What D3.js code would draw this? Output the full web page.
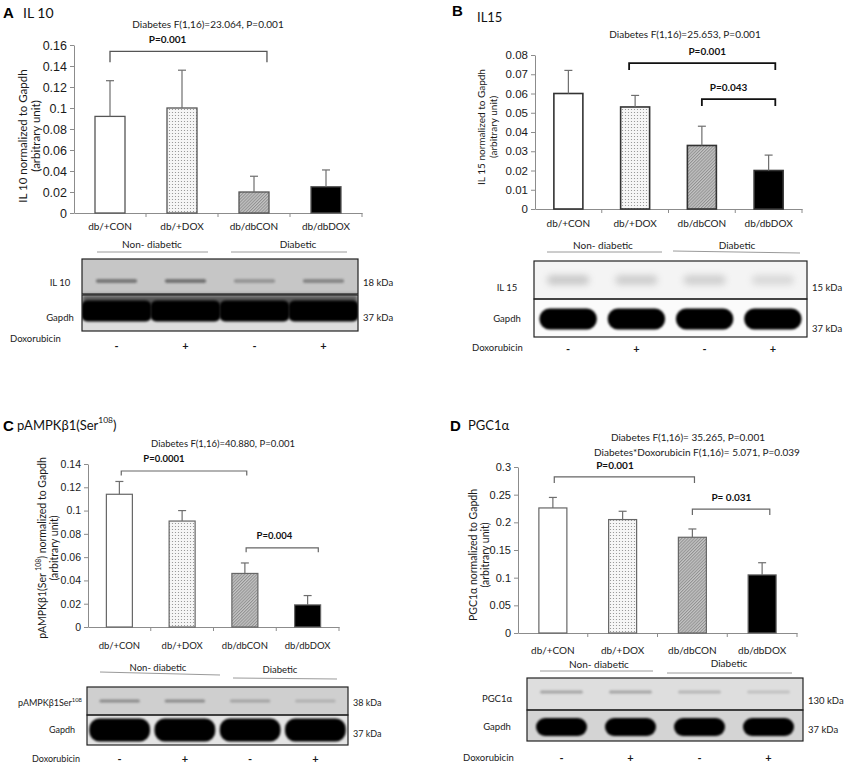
<!DOCTYPE html>
<html><head><meta charset="utf-8">
<script src="https://cdn.jsdelivr.net/npm/d3@7"></script>
<style>body{margin:0;background:#fff} svg{display:block}</style>
</head><body>
<svg id="fig" width="851" height="768"></svg>
<script>
// ---------------- DATA ----------------
const categories = ["db/+CON", "db/+DOX", "db/dbCON", "db/dbDOX"];
const doxorubicin = ["-", "+", "-", "+"];
const groupLabels = ["Non- diabetic", "Diabetic"];

const il10Mean = [0.092, 0.100, 0.020, 0.025];
const il10Err  = [0.034, 0.036, 0.015, 0.016];
const il10Ticks = [0, 0.02, 0.04, 0.06, 0.08, 0.1, 0.12, 0.14, 0.16];
const il10Stats = ["Diabetes F(1,16)=23.064, P=0.001"];
const il10Brackets = [{from: 0, to: 2.18, y: 0.154, label: "P=0.001", at: 0.8}];
const il10Blot = [0.62, 0.66, 0.38, 0.5];

const il15Mean = [0.060, 0.053, 0.033, 0.020];
const il15Err  = [0.012, 0.006, 0.010, 0.008];
const il15Ticks = [0, 0.01, 0.02, 0.03, 0.04, 0.05, 0.06, 0.07, 0.08];
const il15Stats = ["Diabetes F(1,16)=25.653, P=0.001"];
const il15Brackets = [
  {from: 0.91, to: 3.1, y: 0.0758, label: "P=0.001", at: 2.08},
  {from: 2.0, to: 3.1, y: 0.0571, label: "P=0.043", at: 2.4}
];
const il15Blot = [0.38, 0.34, 0.32, 0.24];

const ampkMean = [0.114, 0.091, 0.046, 0.019];
const ampkErr  = [0.011, 0.009, 0.009, 0.008];
const ampkTicks = [0, 0.02, 0.04, 0.06, 0.08, 0.1, 0.12, 0.14];
const ampkStats = ["Diabetes F(1,16)=40.880, P=0.001"];
const ampkBrackets = [
  {from: 0.03, to: 2.03, y: 0.134, label: "P=0.0001", at: 0.71},
  {from: 2.02, to: 3.17, y: 0.068, label: "P=0.004", at: 2.47}
];
const ampkBlot = [0.55, 0.55, 0.35, 0.25];

const pgcMean = [0.226, 0.205, 0.173, 0.105];
const pgcErr  = [0.019, 0.015, 0.015, 0.022];
const pgcTicks = [0, 0.05, 0.1, 0.15, 0.2, 0.25, 0.3];
const pgcStats = ["Diabetes F(1,16)= 35.265, P=0.001", "Diabetes*Doxorubicin F(1,16)= 5.071, P=0.039"];
const pgcBrackets = [
  {from: 0.02, to: 2.03, y: 0.282, label: "P=0.001", at: 0.89},
  {from: 2.0, to: 3.11, y: 0.224, label: "P= 0.031", at: 2.56}
];
const pgcBlot = [0.5, 0.5, 0.35, 0.25];

// ---------------- SETUP ----------------
const SANS = "Lato, 'Open Sans', sans-serif";
const NARROW = "'Liberation Sans Narrow', 'Arial Narrow', sans-serif";
const svg = d3.select("#fig");
const defs = svg.append("defs");

const dots = defs.append("pattern").attr("id", "dots").attr("patternUnits", "userSpaceOnUse")
  .attr("width", 3).attr("height", 3);
dots.append("rect").attr("width", 3).attr("height", 3).attr("fill", "#f6f6f6");
dots.append("circle").attr("cx", 1.5).attr("cy", 1.5).attr("r", 0.6).attr("fill", "#8a8a8a");

const hatch = defs.append("pattern").attr("id", "hatch").attr("patternUnits", "userSpaceOnUse")
  .attr("width", 2.2).attr("height", 2.2).attr("patternTransform", "rotate(45)");
hatch.append("rect").attr("width", 2.2).attr("height", 2.2).attr("fill", "#c4c4c4");
hatch.append("line").attr("x1", 0.5).attr("x2", 0.5).attr("y1", 0).attr("y2", 2.2)
  .attr("stroke", "#8c8c8c").attr("stroke-width", 0.9);

[["b08", 0.8], ["b12", 1.2], ["b2", 2], ["b35", 3.5]].forEach(([id, s]) => {
  defs.append("filter").attr("id", id).attr("x", "-50%").attr("y", "-100%")
    .attr("width", "200%").attr("height", "300%")
    .append("feGaussianBlur").attr("stdDeviation", s);
});

const barFills = ["#ffffff", "url(#dots)", "url(#hatch)", "#000000"];

function txt(g, x, y, s, size, opts = {}) {
  return g.append("text").attr("x", x).attr("y", y).text(s)
    .attr("font-family", opts.family || SANS).attr("font-size", size)
    .attr("font-weight", opts.weight || "normal")
    .attr("fill", opts.fill || "#1a1a1a")
    .attr("text-anchor", opts.anchor || "start")
    .attr("dominant-baseline", "central");
}

function supText(g, x, y, parts, size, opts = {}) {
  const t = g.append("text").attr("x", x).attr("y", y)
    .attr("font-family", SANS).attr("font-size", size)
    .attr("fill", opts.fill || "#1a1a1a")
    .attr("text-anchor", opts.anchor || "start")
    .attr("dominant-baseline", "central");
  let prevSup = false;
  parts.forEach(([s, sup]) => {
    const ts = t.append("tspan").text(s);
    if (sup) { ts.attr("font-size", size * 0.65).attr("dy", -size * 0.35); }
    else if (prevSup) { ts.attr("dy", size * 0.35); }
    prevSup = sup;
  });
  return t;
}

// ---------------- PANELS ----------------
const panels = [
  {
    letter: "A", letterPos: [3, 12], name: [["IL 10", false]], namePos: [23, 12], nameSize: 14,
    mean: il10Mean, err: il10Err, ticks: il10Ticks, yMax: 0.16, stats: il10Stats, brackets: il10Brackets,
    x0: 74, x1: 362, yB: 213, yT: 45, barW: 30, tickSize: 12.5,
    ylab: [[["IL 10 normalized to Gapdh", false]], [["(arbitrary unit)", false]]], ylabX: [22, 35], ylabY: 136, ylabSize: 11.5,
    catY: 226, catSize: 10, statPos: [[208, 24]], statSize: 10, pSize: 10,
    drop: 11, brColor: "#555", brW: 1.3, barStroke: "#555", barStrokeW: 1.3,
    groups: [{x: 152, y: 244, l: [97, 252, 208, 252]}, {x: 298, y: 244, l: [231, 252, 347, 252]}],
    blot: {
      x: 82, w: 276, py: 259, ph: 35, gy: 295, gh: 36, pBg: "#c6c6c6",
      pBandY: 281, pBandH: 4, pBandW: 0.6, pBandColor: "#4a4a4a", pBlur: "b12", bands: il10Blot,
      gBg: "#dcdcdc", gTop: {h: 6, color: "#555"}, gBandY: 311, gBandH: 21, gBandW: 1.02, gRx: 6,
      label: [["IL 10", false]], labelX: 60, gapX: 60, labelAnchor: "middle", kda: ["18 kDa", "37 kDa"], kdaX: 363,
      kdaY: [282, 317], labY: [282, 317], doxX: 10, doxY: 338, signY: 345, size: 9.5
    }
  },
  {
    letter: "B", letterPos: [452, 10], name: [["IL15", false]], namePos: [477, 17], nameSize: 13,
    mean: il15Mean, err: il15Err, ticks: il15Ticks, yMax: 0.08, stats: il15Stats, brackets: il15Brackets,
    x0: 535, x1: 802, yB: 209, yT: 55, barW: 29, tickSize: 11.5,
    ylab: [[["IL 15 normalized to Gapdh", false]], [["(arbitrary unit)", false]]], ylabX: [481, 493], ylabY: 127, ylabSize: 10,
    catY: 223, catSize: 10, statPos: [[685, 34]], statSize: 10, pSize: 10,
    drop: 7, brColor: "#111", brW: 1.8, barStroke: "#333", barStrokeW: 1.6,
    groups: [{x: 603, y: 245, l: [547, 252, 662, 252]}, {x: 737, y: 245, l: [673, 251, 800, 253]}],
    blot: {
      x: 534, w: 273, py: 261, ph: 38, gy: 299, gh: 38, pBg: "#f4f4f4",
      pBandY: 280, pBandH: 9, pBandW: 0.62, pBandColor: "#7a7a7a", pBlur: "b35", bands: il15Blot,
      gBg: "#fbfbfb", gTop: null, gBandY: 319, gBandH: 21, gBandW: 0.84, gRx: 10,
      label: [["IL 15", false]], labelX: 507, gapX: 507, labelAnchor: "middle", kda: ["15 kDa", "37 kDa"], kdaX: 812,
      kdaY: [287, 328], labY: [287, 318], doxX: 472, doxY: 347, signY: 348, size: 9.5
    }
  },
  {
    letter: "C", letterPos: [3, 425], name: [["pAMPKβ1(Ser", false], ["108", true], [")", false]], namePos: [17, 425], nameSize: 13,
    mean: ampkMean, err: ampkErr, ticks: ampkTicks, yMax: 0.14, stats: ampkStats, brackets: ampkBrackets,
    x0: 88, x1: 339, yB: 627, yT: 464, barW: 26, tickSize: 10.5,
    ylab: [[["pAMPKβ1(Ser ", false], ["108", true], [") normalized to Gapdh", false]], [["(arbitrary unit)", false]]],
    ylabX: [42, 54], ylabY: 548, ylabSize: 10.5,
    catY: 645, catSize: 9.5, statPos: [[223, 443]], statSize: 9.5, pSize: 9.5,
    drop: 4.5, brColor: "#666", brW: 1.2, barStroke: "#666", barStrokeW: 1.2,
    groups: [{x: 158, y: 667, l: [100, 672, 220, 675]}, {x: 280, y: 669, l: [233, 678, 337, 679]}],
    blot: {
      x: 87, w: 261, py: 687, ph: 28, gy: 715, gh: 30, pBg: "#cfcfcf",
      pBandY: 701, pBandH: 3, pBandW: 0.62, pBandColor: "#555", pBlur: "b12", bands: ampkBlot,
      gBg: "#e4e4e4", gTop: null, gBandY: 730, gBandH: 23, gBandW: 0.93, gRx: 10,
      label: [["pAMPKβ1Ser", false], ["108", true]], labelX: 82, gapX: 62, labelAnchor: "end", kda: ["38 kDa", "37 kDa"], kdaX: 353,
      kdaY: [702, 733], labY: [702, 729], doxX: 32, doxY: 758, signY: 758, size: 9
    }
  },
  {
    letter: "D", letterPos: [450, 425], name: [["PGC1α", false]], namePos: [468, 425], nameSize: 13,
    mean: pgcMean, err: pgcErr, ticks: pgcTicks, yMax: 0.3, stats: pgcStats, brackets: pgcBrackets,
    x0: 518, x1: 797, yB: 633, yT: 467, barW: 28, tickSize: 11,
    ylab: [[["PGC1α normalized to Gapdh", false]], [["(arbitrary unit)", false]]], ylabX: [473, 485], ylabY: 555, ylabSize: 10.5,
    catY: 650, catSize: 10, statPos: [[688, 437], [697, 452]], statSize: 10, pSize: 10,
    drop: 6, brColor: "#666", brW: 1.2, barStroke: "#666", barStrokeW: 1.2,
    groups: [{x: 599, y: 664, l: [540, 671, 653, 671]}, {x: 729, y: 663, l: [667, 673, 792, 673]}],
    blot: {
      x: 527, w: 276, py: 678, ph: 32, gy: 710, gh: 31, pBg: "#dedede",
      pBandY: 692, pBandH: 3, pBandW: 0.62, pBandColor: "#6a6a6a", pBlur: "b12", bands: pgcBlot,
      gBg: "#d4d4d4", gTop: null, gBandY: 727, gBandH: 18, gBandW: 0.74, gRx: 9,
      label: [["PGC1α", false]], labelX: 497, gapX: 497, labelAnchor: "middle", kda: ["130 kDa", "37 kDa"], kdaX: 808,
      kdaY: [700, 729], labY: [698, 726], doxX: 463, doxY: 757, signY: 757, size: 9.5
    }
  }
];

function drawPanel(P) {
  const g = svg.append("g");
  const x = d3.scaleBand().domain(categories).range([P.x0, P.x1]);
  const bw = x.bandwidth();
  const fx = f => P.x0 + (f + 0.5) * bw;
  const y = d3.scaleLinear().domain([0, P.yMax]).range([P.yB, P.yT]);

  // heading
  txt(g, P.letterPos[0], P.letterPos[1], P.letter, 15, {family: "'Liberation Sans', Arial, sans-serif", weight: "bold", fill: "#000"});
  supText(g, P.namePos[0], P.namePos[1], P.name, P.nameSize, {fill: "#111"});

  // statistics
  P.stats.forEach((s, i) => txt(g, P.statPos[i][0], P.statPos[i][1], s, P.statSize, {anchor: "middle"}));

  // y axis
  const yAxis = d3.axisLeft(y).tickValues(P.ticks).tickFormat(v => String(+v.toFixed(3)))
    .tickSize(4).tickPadding(3).tickSizeOuter(0);
  const ya = g.append("g").attr("transform", `translate(${P.x0},0)`).call(yAxis);
  ya.select(".domain").attr("stroke", "#8c8c8c");
  ya.selectAll(".tick line").attr("stroke", "#8c8c8c");
  ya.selectAll(".tick text").attr("font-family", NARROW).attr("font-size", P.tickSize).attr("fill", "#1a1a1a");

  // x axis (line + category boundary ticks)
  const xAxis = d3.axisBottom(x).tickSize(0).tickFormat("").tickSizeOuter(0);
  const xa = g.append("g").attr("transform", `translate(0,${P.yB})`).call(xAxis);
  xa.select(".domain").attr("stroke", "#8c8c8c");
  xa.selectAll(".tick").remove();
  categories.forEach(c => {
    const bx = x(c) + bw;
    g.append("line").attr("x1", bx).attr("x2", bx).attr("y1", P.yB).attr("y2", P.yB + 4).attr("stroke", "#8c8c8c");
  });
  categories.forEach(c => txt(g, x(c) + bw / 2, P.catY, c, P.catSize, {anchor: "middle"}));

  // bars
  g.selectAll(".bar").data(P.mean).join("rect")
    .attr("x", (d, i) => x(categories[i]) + (bw - P.barW) / 2)
    .attr("y", d => y(d)).attr("width", P.barW).attr("height", d => P.yB - y(d))
    .attr("fill", (d, i) => barFills[i]).attr("stroke", P.barStroke).attr("stroke-width", P.barStrokeW);

  // error bars
  P.mean.forEach((m, i) => {
    const cx = x(categories[i]) + bw / 2;
    const yt = y(m + P.err[i]);
    g.append("line").attr("x1", cx).attr("x2", cx).attr("y1", y(m)).attr("y2", yt)
      .attr("stroke", "#6e6e6e").attr("stroke-width", 1.2);
    g.append("line").attr("x1", cx - 4).attr("x2", cx + 4).attr("y1", yt).attr("y2", yt)
      .attr("stroke", "#6e6e6e").attr("stroke-width", 1.2);
  });

  // brackets
  P.brackets.forEach(b => {
    const xa_ = fx(b.from), xb = fx(b.to), yy = y(b.y);
    g.append("path").attr("d", `M${xa_},${yy + P.drop}V${yy}H${xb}V${yy + P.drop}`)
      .attr("fill", "none").attr("stroke", P.brColor).attr("stroke-width", P.brW);
    txt(g, fx(b.at), yy - 12, b.label, P.pSize, {anchor: "middle", weight: "bold", fill: "#111"});
  });

  // y label
  P.ylab.forEach((parts, i) => {
    const gl = g.append("g").attr("transform", `translate(${P.ylabX[i]},${P.ylabY}) rotate(-90)`);
    supText(gl, 0, 0, parts, P.ylabSize, {anchor: "middle", fill: "#1a1a1a"});
  });

  // group labels
  P.groups.forEach((gr, i) => {
    txt(g, gr.x, gr.y, groupLabels[i], P.catSize, {anchor: "middle"});
    g.append("line").attr("x1", gr.l[0]).attr("y1", gr.l[1]).attr("x2", gr.l[2]).attr("y2", gr.l[3])
      .attr("stroke", "#9a9a9a").attr("stroke-width", 1);
  });

  // blot
  const B = P.blot;
  const lane = d3.scaleBand().domain(categories).range([B.x, B.x + B.w]);
  const lw = lane.bandwidth();
  const gb = g.append("g");
  gb.append("rect").attr("x", B.x).attr("y", B.py).attr("width", B.w).attr("height", B.ph).attr("fill", B.pBg);
  gb.append("rect").attr("x", B.x).attr("y", B.gy).attr("width", B.w).attr("height", B.gh).attr("fill", B.gBg);
  const clipId = "clip" + P.letter;
  defs.append("clipPath").attr("id", clipId).append("rect")
    .attr("x", B.x).attr("y", B.py).attr("width", B.w).attr("height", B.gy + B.gh - B.py);
  const inner = gb.append("g").attr("clip-path", `url(#${clipId})`);
  B.bands.forEach((v, i) => {
    const cx = lane(categories[i]) + lw / 2;
    inner.append("rect").attr("x", cx - lw * B.pBandW / 2).attr("y", B.pBandY - B.pBandH / 2)
      .attr("width", lw * B.pBandW).attr("height", B.pBandH).attr("rx", B.pBandH / 2)
      .attr("fill", B.pBandColor).attr("opacity", v).attr("filter", `url(#${B.pBlur})`);
  });
  if (B.gTop) {
    inner.append("rect").attr("x", B.x).attr("y", B.gy).attr("width", B.w).attr("height", B.gTop.h + 4)
      .attr("fill", B.gTop.color).attr("filter", "url(#b2)");
  }
  categories.forEach((c, i) => {
    const cx = lane(c) + lw / 2;
    inner.append("rect").attr("x", cx - lw * B.gBandW / 2).attr("y", B.gBandY - B.gBandH / 2)
      .attr("width", lw * B.gBandW).attr("height", B.gBandH).attr("rx", B.gRx)
      .attr("fill", "#050505").attr("filter", "url(#b12)");
  });
  gb.append("rect").attr("x", B.x).attr("y", B.py).attr("width", B.w).attr("height", B.ph)
    .attr("fill", "none").attr("stroke", "#222").attr("stroke-width", 1.2);
  gb.append("rect").attr("x", B.x).attr("y", B.gy).attr("width", B.w).attr("height", B.gh)
    .attr("fill", "none").attr("stroke", "#222").attr("stroke-width", 1.2);

  // blot labels
  supText(g, B.labelX, B.labY[0], B.label, B.size, {anchor: B.labelAnchor});
  txt(g, B.gapX, B.labY[1], "Gapdh", B.size, {anchor: "middle"});
  B.kda.forEach((k, i) => txt(g, B.kdaX, B.kdaY[i], k, B.size));
  txt(g, B.doxX, B.doxY, "Doxorubicin", B.size);
  doxorubicin.forEach((s, i) => txt(g, lane(categories[i]) + lw / 2, B.signY, s, 11, {anchor: "middle", weight: "bold"}));
}

panels.forEach(drawPanel);
</script>
</body></html>
